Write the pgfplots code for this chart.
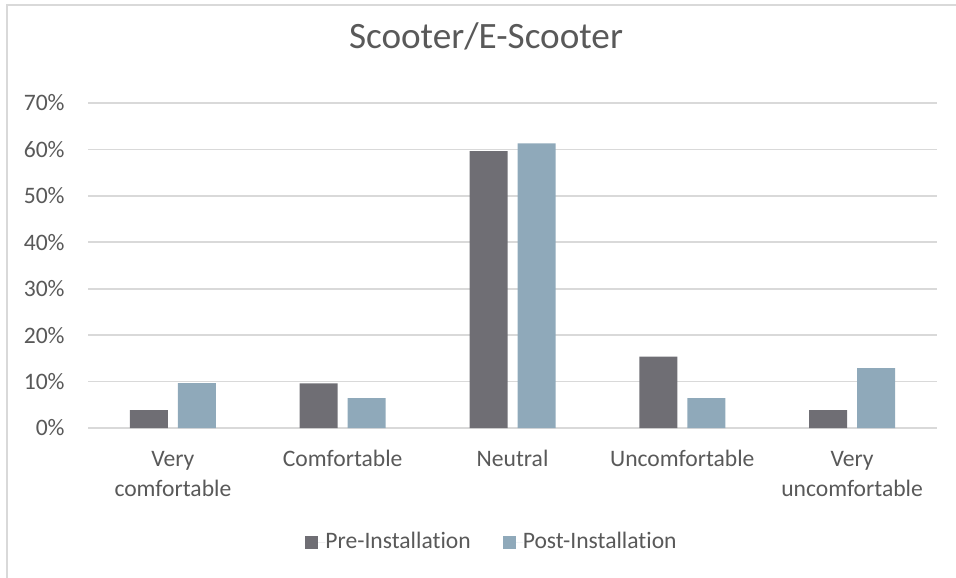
\documentclass[border=0pt]{standalone}
\usepackage{fontspec}
\setmainfont{Carlito}[Ligatures=NoCommon]
\usepackage{pgfplots}
\pgfplotsset{compat=1.18}
\definecolor{preC}{HTML}{6F6E74}
\definecolor{postC}{HTML}{8FA9BA}
\definecolor{txt}{HTML}{595959}
\definecolor{grd}{HTML}{D9D9D9}
\newcommand{\lstrut}{\rule[-4.4pt]{0pt}{14.75pt}}
\begin{document}
\begin{tikzpicture}
\useasboundingbox (0,0) rectangle (478pt,-288.5pt);
\draw[grd, line width=1pt] (3.5pt,-2.5pt) rectangle (490pt,-300pt);
\begin{axis}[
  at={(44pt,-214pt)}, anchor=south west,
  scale only axis, width=424.5pt, height=162.5pt,
  xmin=-0.5, xmax=4.5, ymin=0, ymax=70,
  ybar=5pt, bar width=19pt,
  xtick={0,...,4},
  xticklabels={{\lstrut Very\\\lstrut comfortable},{\lstrut Comfortable},{\lstrut Neutral},{\lstrut Uncomfortable},{\lstrut Very\\\lstrut uncomfortable}},
  ytick={0,10,...,70},
  yticklabel={\pgfmathprintnumber{\tick}\%},
  axis line style={draw=none},
  major tick length=0pt,
  ymajorgrids, grid style={grd, line width=0.9pt},
  tick label style={font=\fontsize{11.8}{14.75}\selectfont, text=txt},
  xticklabel style={align=center, anchor=north, inner sep=0pt, yshift=-8.9pt},
  yticklabel style={anchor=east, inner sep=0pt, xshift=-11.5pt},
  /pgf/number format/assume math mode=true,
  title={Scooter/E-Scooter},
  title style={font=\fontsize{18.6}{22}\selectfont, text=txt, at={(axis description cs:0.4688,1.1323)}, anchor=base, inner sep=0pt},
  legend columns=2,
  legend style={draw=none, fill=none, at={(axis description cs:0.4747,-0.3508)}, anchor=center,
    font=\fontsize{11.8}{14.75}\selectfont, text=txt,
    /tikz/every even column/.append style={column sep=16pt},
    nodes={inner sep=0pt}},
  legend image code/.code={\fill[#1] (0pt,-3.25pt) rectangle (6.5pt,3.25pt); \path (0pt,0pt) -- (10pt,0pt);},
]
\addplot[fill=preC, draw=none] coordinates {(0,3.85) (1,9.62) (2,59.62) (3,15.38) (4,3.85)};
\addplot[fill=postC, draw=none] coordinates {(0,9.68) (1,6.45) (2,61.29) (3,6.45) (4,12.90)};
\legend{Pre-Installation, Post-Installation}
\end{axis}
\end{tikzpicture}
\end{document}
